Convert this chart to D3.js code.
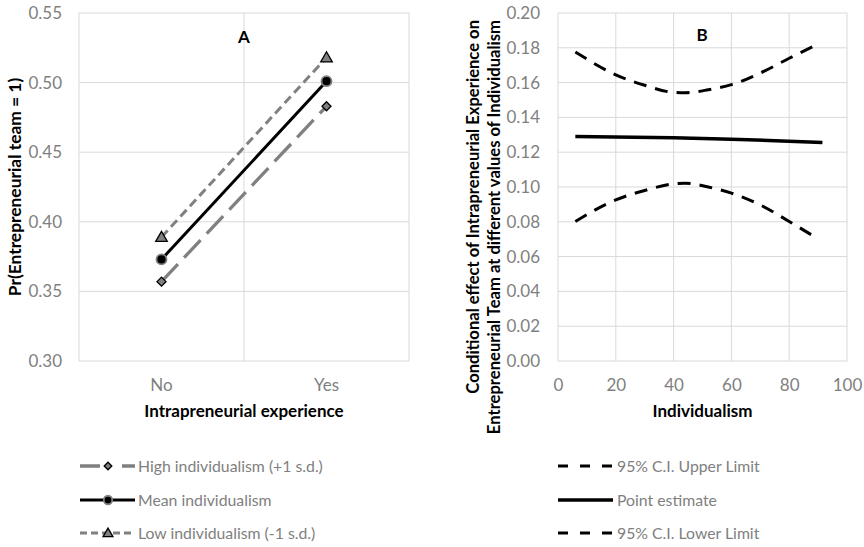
<!DOCTYPE html>
<html>
<head>
<meta charset="utf-8">
<script src="https://cdn.jsdelivr.net/npm/d3@7"></script>
<style>
  html, body { margin: 0; padding: 0; background: #fff; }
  svg { display: block; font-family: Lato, "Open Sans", sans-serif; }
</style>
</head>
<body>
<svg id="chart" width="864" height="547"></svg>
<script>
// ---- Panel A: predicted probability by intrapreneurial experience ----
const categories = ["No", "Yes"];
const highIndividualism = [0.357, 0.483];
const meanIndividualism = [0.373, 0.501];
const lowIndividualism = [0.389, 0.518];
const yTicksA = [0.30, 0.35, 0.40, 0.45, 0.50, 0.55];

// ---- Panel B: conditional effect across individualism ----
const ciX = [6, 20, 30, 40, 44, 52, 60, 70, 80, 89];
const ciUpper = [0.1776, 0.1645, 0.1585, 0.1544, 0.1542, 0.1559, 0.1588, 0.1655, 0.174, 0.1814];
const ciLower = [0.0802, 0.0926, 0.098, 0.1018, 0.1022, 0.1000, 0.0965, 0.0897, 0.0802, 0.0712];
const pointX = [6, 40, 60, 91.5];
const pointEstimate = [0.129, 0.1283, 0.1275, 0.1256];
const xTicksB = [0, 20, 40, 60, 80, 100];
const yTicksB = [0, 0.02, 0.04, 0.06, 0.08, 0.10, 0.12, 0.14, 0.16, 0.18, 0.20];

const GRID = "#d9d9d9", TICK_TXT = "#808080", GRAY = "#808080";
const TICK_SIZE = 17, TITLE_SIZE = 17, LEGEND_SIZE = 15.8;
const svg = d3.select("#chart");

// ================= Panel A =================
const A = { left: 79, right: 409, top: 13, bottom: 361 };
const xA = d3.scaleBand().domain(categories).range([A.left, A.right]);
const yA = d3.scaleLinear().domain([0.30, 0.55]).range([A.bottom, A.top]);
const gA = svg.append("g");

// horizontal gridlines
gA.append("g").selectAll("line").data(yTicksA).join("line")
  .attr("x1", A.left).attr("x2", A.right)
  .attr("y1", d => yA(d)).attr("y2", d => yA(d))
  .attr("stroke", GRID).attr("stroke-width", 1);
// vertical gridlines at category boundaries
const boundaries = [A.left, ...categories.map(c => xA(c) + xA.bandwidth())];
gA.append("g").selectAll("line").data(boundaries).join("line")
  .attr("x1", d => d).attr("x2", d => d)
  .attr("y1", A.top).attr("y2", A.bottom)
  .attr("stroke", GRID).attr("stroke-width", 1);

// y axis labels
const yAxisA = d3.axisLeft(yA).tickValues(yTicksA).tickFormat(d3.format(".2f")).tickSize(0).tickPadding(0);
gA.append("g").attr("transform", `translate(${A.left - 17},0)`).call(yAxisA)
  .call(g => g.select(".domain").remove())
  .call(g => g.selectAll("text").attr("fill", TICK_TXT).attr("font-size", TICK_SIZE).attr("font-family", "Lato"));
// x axis labels
const xAxisA = d3.axisBottom(xA).tickSize(0).tickPadding(0);
gA.append("g").attr("transform", `translate(0,${A.bottom + 18})`).call(xAxisA)
  .call(g => g.select(".domain").remove())
  .call(g => g.selectAll("text").attr("fill", TICK_TXT).attr("font-size", TICK_SIZE).attr("font-family", "Lato"));

// axis titles
gA.append("text").attr("x", (A.left + A.right) / 2).attr("y", 417)
  .attr("text-anchor", "middle").attr("font-weight", "bold").attr("font-size", TITLE_SIZE)
  .text("Intrapreneurial experience");
gA.append("text").attr("transform", `translate(21,${(A.top + A.bottom) / 2}) rotate(-90)`)
  .attr("text-anchor", "middle").attr("font-weight", "bold").attr("font-size", 17.4)
  .text("Pr(Entrepreneurial team = 1)");
gA.append("text").attr("x", (A.left + A.right) / 2).attr("y", 43)
  .attr("text-anchor", "middle").attr("font-weight", "bold").attr("font-size", 17)
  .text("A");

const cx = c => xA(c) + xA.bandwidth() / 2;
const lineA = d3.line().x((d, i) => cx(categories[i])).y(d => yA(d));

const seriesA = [
  { values: lowIndividualism, stroke: GRAY, width: 3, dash: "9,5", marker: "triangle" },
  { values: highIndividualism, stroke: GRAY, width: 3.3, dash: "24,9", marker: "diamond" },
  { values: meanIndividualism, stroke: "#000", width: 3, dash: null, marker: "circle" }
];

function drawMarker(g, type, x, y, scale = 1) {
  if (type === "triangle") {
    const s = 5.8 * scale;
    g.append("path").attr("d", `M${x},${y - s} L${x + s},${y + s * 0.75} L${x - s},${y + s * 0.75} Z`)
      .attr("fill", GRAY).attr("stroke", "#000").attr("stroke-width", 1.3);
  } else if (type === "diamond") {
    const s = 4.5 * scale;
    g.append("path").attr("d", `M${x},${y - s} L${x + s},${y} L${x},${y + s} L${x - s},${y} Z`)
      .attr("fill", GRAY).attr("stroke", "#000").attr("stroke-width", 1.3);
  } else {
    g.append("circle").attr("cx", x).attr("cy", y).attr("r", 5 * scale)
      .attr("fill", "#000").attr("stroke", GRAY).attr("stroke-width", 1.8);
  }
}

seriesA.forEach(s => {
  gA.append("path").attr("d", lineA(s.values)).attr("fill", "none")
    .attr("stroke", s.stroke).attr("stroke-width", s.width)
    .attr("stroke-dasharray", s.dash);
  s.values.forEach((v, i) => drawMarker(gA, s.marker, cx(categories[i]), yA(v)));
});

// ================= Panel B =================
const B = { left: 558, right: 847, top: 13, bottom: 361 };
const xB = d3.scaleLinear().domain([0, 100]).range([B.left, B.right]);
const yB = d3.scaleLinear().domain([0, 0.20]).range([B.bottom, B.top]);
const gB = svg.append("g");

gB.append("g").selectAll("line").data(yTicksB).join("line")
  .attr("x1", B.left).attr("x2", B.right)
  .attr("y1", d => yB(d)).attr("y2", d => yB(d))
  .attr("stroke", GRID).attr("stroke-width", 1);
gB.append("g").selectAll("line").data(xTicksB).join("line")
  .attr("x1", d => xB(d)).attr("x2", d => xB(d))
  .attr("y1", B.top).attr("y2", B.bottom)
  .attr("stroke", GRID).attr("stroke-width", 1);

const yAxisB = d3.axisLeft(yB).tickValues(yTicksB).tickFormat(d3.format(".2f")).tickSize(0).tickPadding(0);
gB.append("g").attr("transform", `translate(${B.left - 18},0)`).call(yAxisB)
  .call(g => g.select(".domain").remove())
  .call(g => g.selectAll("text").attr("fill", TICK_TXT).attr("font-size", TICK_SIZE).attr("font-family", "Lato"));
const xAxisB = d3.axisBottom(xB).tickValues(xTicksB).tickSize(0).tickPadding(0);
gB.append("g").attr("transform", `translate(0,${B.bottom + 18})`).call(xAxisB)
  .call(g => g.select(".domain").remove())
  .call(g => g.selectAll("text").attr("fill", TICK_TXT).attr("font-size", TICK_SIZE).attr("font-family", "Lato"));

gB.append("text").attr("x", (B.left + B.right) / 2).attr("y", 417)
  .attr("text-anchor", "middle").attr("font-weight", "bold").attr("font-size", TITLE_SIZE)
  .text("Individualism");
const yTitleB = gB.append("text").attr("transform", `rotate(-90)`)
  .attr("text-anchor", "end").attr("font-weight", "bold").attr("font-size", 16.6);
yTitleB.append("tspan").attr("x", -20).attr("y", 479).text("Conditional effect of Intrapreneurial Experience on");
yTitleB.append("tspan").attr("x", -20).attr("y", 500).text("Entrepreneurial Team at different values of Individualism");
gB.append("text").attr("x", 702).attr("y", 41)
  .attr("text-anchor", "middle").attr("font-weight", "bold").attr("font-size", 17)
  .text("B");

const smooth = d3.line().x(d => xB(d[0])).y(d => yB(d[1])).curve(d3.curveMonotoneX);
const zip = (xs, ys) => xs.map((x, i) => [x, ys[i]]);
gB.append("path").attr("d", smooth(zip(ciX, ciUpper))).attr("fill", "none")
  .attr("stroke", "#000").attr("stroke-width", 3).attr("stroke-dasharray", "13,9");
gB.append("path").attr("d", smooth(zip(ciX, ciLower))).attr("fill", "none")
  .attr("stroke", "#000").attr("stroke-width", 3).attr("stroke-dasharray", "13,9");
gB.append("path").attr("d", smooth(zip(pointX, pointEstimate))).attr("fill", "none")
  .attr("stroke", "#000").attr("stroke-width", 3.5);

// ================= Legends =================
const legendRows = [466, 500, 533];
const legA = svg.append("g");
const legendA = [
  { label: "High individualism (+1 s.d.)", stroke: GRAY, width: 3.3, dash: "20,22", marker: "diamond" },
  { label: "Mean individualism", stroke: "#000", width: 3, dash: null, marker: "circle" },
  { label: "Low individualism (-1 s.d.)", stroke: GRAY, width: 3, dash: "7,4", marker: "triangle" }
];
legendA.forEach((d, i) => {
  const y = legendRows[i];
  legA.append("line").attr("x1", 80).attr("x2", 135).attr("y1", y).attr("y2", y)
    .attr("stroke", d.stroke).attr("stroke-width", d.width).attr("stroke-dasharray", d.dash);
  drawMarker(legA, d.marker, 108, y, 0.85);
  legA.append("text").attr("x", 138).attr("y", y).attr("dy", "0.35em")
    .attr("fill", TICK_TXT).attr("font-size", LEGEND_SIZE).text(d.label);
});

const legB = svg.append("g");
const legendB = [
  { label: "95% C.I. Upper Limit", width: 3, dash: "10,12" },
  { label: "Point estimate", width: 3.5, dash: null },
  { label: "95% C.I. Lower Limit", width: 3, dash: "10,12" }
];
legendB.forEach((d, i) => {
  const y = legendRows[i];
  legB.append("line").attr("x1", 558).attr("x2", 613).attr("y1", y).attr("y2", y)
    .attr("stroke", "#000").attr("stroke-width", d.width).attr("stroke-dasharray", d.dash);
  legB.append("text").attr("x", 617).attr("y", y).attr("dy", "0.35em")
    .attr("fill", TICK_TXT).attr("font-size", LEGEND_SIZE).text(d.label);
});
</script>
</body>
</html>
